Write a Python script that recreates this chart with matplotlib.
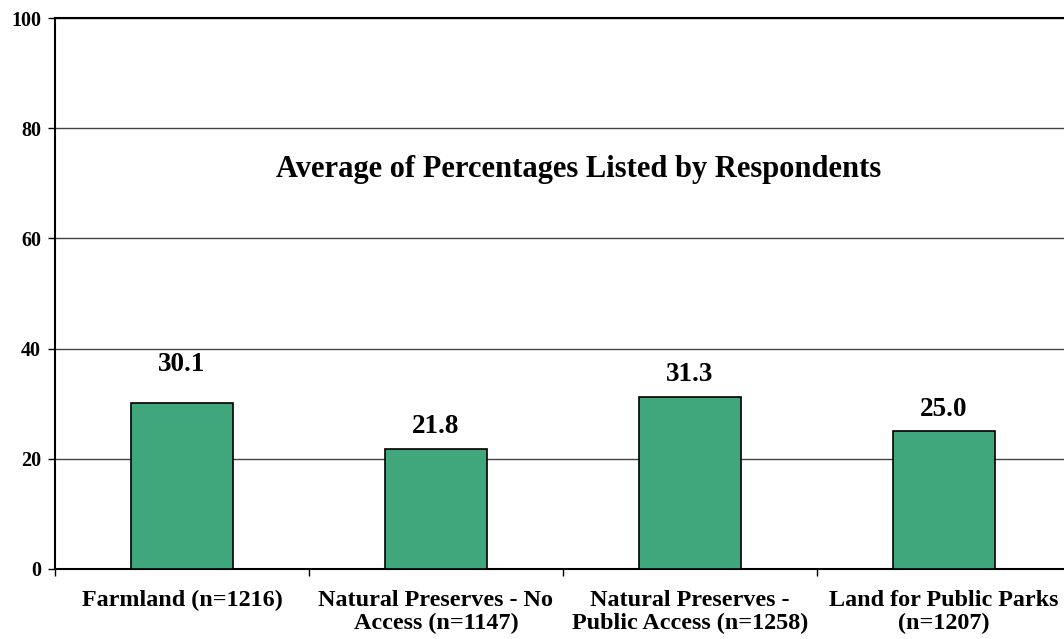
import matplotlib
matplotlib.use("Agg")
import matplotlib.pyplot as plt
import numpy as np

# data
categories = ["Farmland (n=1216)", "Natural Preserves - No\nAccess (n=1147)",
              "Natural Preserves -\nPublic Access (n=1258)", "Land for Public Parks\n(n=1207)"]
values = [30.1, 21.8, 31.3, 25.0]
yticks = [0, 20, 40, 60, 80, 100]
title = "Average of Percentages Listed by Respondents"

bar_color = "#3fa77b"
plt.rcParams['font.family'] = ['Liberation Serif', 'DejaVu Serif']
plt.rcParams['font.weight'] = 'bold'

fig = plt.figure(figsize=(10.64, 6.39), dpi=100)
ax = fig.add_axes([55/1064, 70/639, 1016/1064, 551/639])

x = np.arange(len(values))
ax.bar(x, values, width=0.4, color=bar_color, edgecolor="black", linewidth=1.2, zorder=3)

ax.set_xlim(-0.5, len(values) - 0.5)
ax.set_ylim(0, 100)
ax.set_yticks(yticks)
ax.set_yticklabels([str(t) for t in yticks], fontsize=14.5, fontweight='bold')
ax.yaxis.grid(True, color="#444444", linewidth=1.0, zorder=0)

ax.set_xticks(x)
ax.set_xticklabels(categories, fontsize=17.4, fontweight='bold', linespacing=1.1)
ax.set_xticks(np.arange(len(values) + 1) - 0.5, minor=True)
ax.tick_params(axis='x', which='major', length=0, pad=15)
ax.tick_params(axis='x', which='minor', length=5, width=1, direction='out')
ax.tick_params(axis='y', length=5, width=1, direction='out', pad=5)

for side in ['left', 'bottom', 'top']:
    ax.spines[side].set_linewidth(1.5)
    ax.spines[side].set_color("black")
ax.spines['right'].set_visible(False)

# value labels above the bars (first one sits a bit higher, as in the original)
for i, v in enumerate(values):
    extra = 12 if i == 0 else 0
    ax.annotate("%.1f" % v, (i, v), xytext=(0, 7 + extra), textcoords="offset points",
                ha='center', va='bottom', fontsize=19.5, fontweight='bold')

ax.text(0.515, 0.725, title, transform=ax.transAxes, ha='center', va='center',
        fontsize=22, fontweight='bold')

fig.savefig("out.png", dpi=100)
